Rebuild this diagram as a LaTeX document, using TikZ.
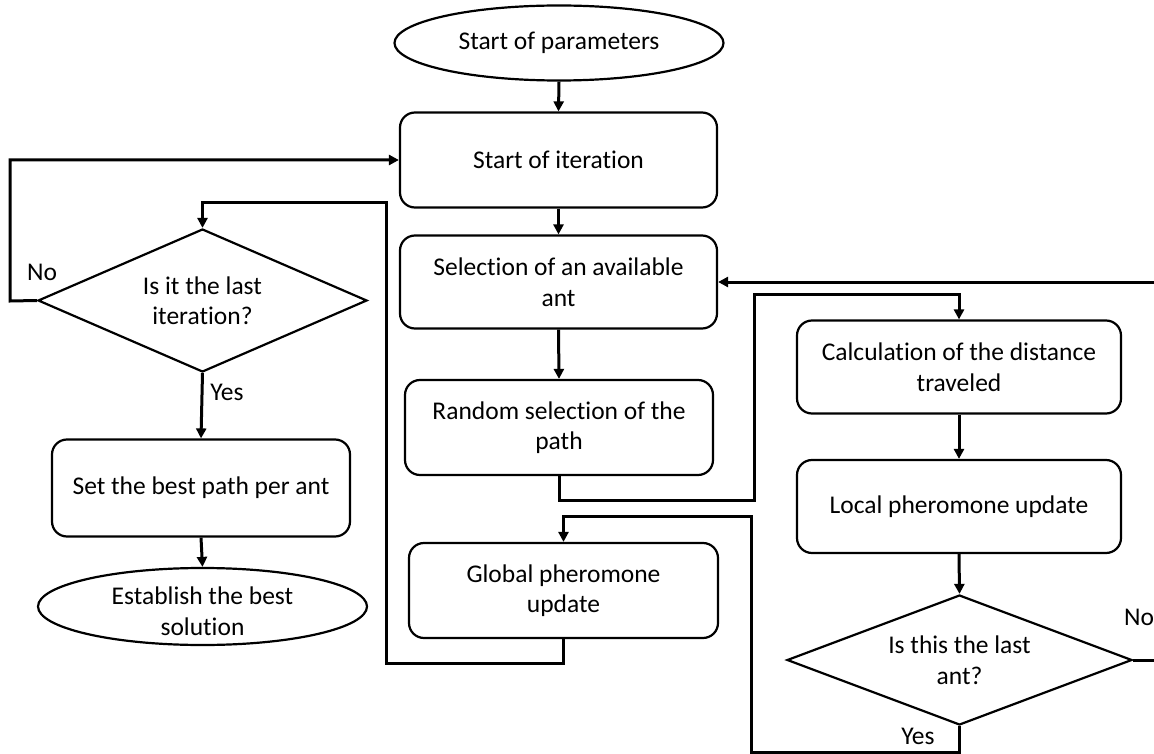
\documentclass[tikz,border=0pt]{standalone}
\usepackage{fontspec}
\setmainfont{Carlito}[RawFeature={-liga;-clig;-calt;-dlig}]
\usetikzlibrary{shapes.geometric,arrows.meta}
\begin{document}
\begin{tikzpicture}[x=1pt,y=-1pt,
  every node/.style={font=\fontsize{25.5}{30.5}\selectfont, inner sep=0pt, align=center},
  box/.style={draw, line width=2.2pt, rounded corners=15pt},
  oval/.style={draw, ellipse, line width=2.2pt},
  decision/.style={draw, diamond, line width=2.2pt},
  conn/.style={line width=3pt, -{Triangle[length=10pt,width=10pt]}},
  line/.style={line width=3pt}]
\useasboundingbox (0,0) rectangle (1154,754);
\clip (0,0) rectangle (1154,754);
% nodes
\node[oval, minimum width=329pt, minimum height=75pt] (sp) at (559,43) {Start of parameters};
\node[box, minimum width=317pt, minimum height=95pt] (si) at (558.5,160) {Start of iteration};
\node[box, minimum width=317pt, minimum height=93pt] (sel) at (558.5,282) {Selection of an available\\ant};
\node[box, minimum width=308pt, minimum height=95pt] (rnd) at (559,427.5) {Random selection of the\\path};
\node[box, minimum width=309pt, minimum height=95pt] (glb) at (563.5,590.5) {Global pheromone\\update};
\node[decision, aspect=2.3, minimum width=329pt, minimum height=143pt] (d1) at (202.5,300.5) {Is it the last\\iteration?};
\node[box, minimum width=298pt, minimum height=97pt] (set) at (201,488) {Set the best path per ant};
\node[oval, minimum width=329pt, minimum height=77pt] (est) at (202.5,606.5) {};
\node (esttxt) at (202.5,611) {Establish the best\\solution};
\node[box, minimum width=324pt, minimum height=93pt] (calc) at (959,367) {Calculation of the distance\\traveled};
\node[box, minimum width=324pt, minimum height=93pt] (loc) at (959,506.5) {Local pheromone update};
\node[decision, aspect=2.65, minimum width=345pt, minimum height=130pt] (d2) at (959.5,660) {Is this the last\\ant?};
% labels
\node (no1) at (42,272) {No};
\node (yes1) at (227,392) {Yes};
\node[anchor=west] (no2) at (1124,617) {No};
\node (yes2) at (918,736) {Yes};
% coordinates
\coordinate (r1) at (754,500);
\coordinate (r2) at (754,294);
\coordinate (n1) at (1170,660);
\coordinate (y1) at (751,752);
\coordinate (y2) at (751,516);
\coordinate (g1) at (386,663);
\coordinate (g2) at (386,203);
\coordinate (n2) at (10,301);
% connectors
\draw[conn] (sp.south) -- (si.north);
\draw[conn] (si.south) -- (sel.north);
\draw[conn] (sel.south) -- (rnd.north);
\draw[conn] (rnd.south) |- (r1) -- (r2) -| (calc.north);
\draw[conn] (calc.south) -- (loc.north);
\draw[conn] (loc.south) -- (d2.north);
\draw[conn] (d2.east) -- (n1) |- (sel.east);
\draw[conn] (d2.south) |- (y1) -- (y2) -| (glb.north);
\draw[conn] (glb.south) |- (g1) -- (g2) -| (d1.north);
\draw[conn] (d1.west) -- (n2) |- (si.west);
\draw[conn] (d1.south) -- (set.north);
\draw[conn] (set.south) -- (est.north);
\end{tikzpicture}
\end{document}
